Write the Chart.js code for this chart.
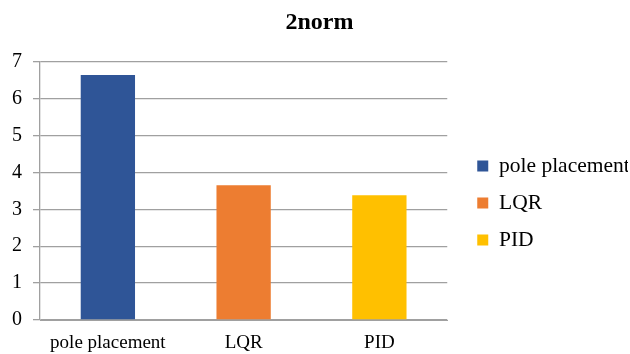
<!DOCTYPE html>
<html>
<head>
<meta charset="utf-8">
<script src="https://cdn.jsdelivr.net/npm/chart.js@4"></script>
<style>
  html, body { margin: 0; padding: 0; background: #fff; }
  #wrap { width: 630px; height: 354px; }
</style>
</head>
<body>
<div id="wrap"><canvas id="myChart"></canvas></div>
<script>
const categories = ['pole placement', 'LQR', 'PID'];
const values = [6.64, 3.65, 3.38];
const barColors = ['#2f5597', '#ed7d31', '#ffc000'];
const yTicks = [0, 1, 2, 3, 4, 5, 6, 7];

const serif = "'Liberation Serif', 'Times New Roman', serif";
Chart.defaults.font.family = serif;
Chart.defaults.color = '#000';

// legend sits a bit away from the plot and lower than chart.js puts it
const legendShift = {
    id: 'legendShift',
    beforeInit(chart) {
        const fitLegend = chart.legend.fit;
        chart.legend.fit = function() {
            fitLegend.bind(chart.legend)();
            this.width += 24;
        };
    },
    afterLayout(chart) {
        chart.legend.left += 14.5;
        chart.legend.top += 25;
        chart.legend.bottom += 25;
        chart.titleBlock.left += 5;
        chart.titleBlock.right += 5;
    }
};

let ctx = document.getElementById('myChart');

var myChart = new Chart(ctx, {
    type: 'bar',
    data: {
        labels: categories,
        datasets: [{
            label: '2norm',
            data: values,
            backgroundColor: barColors,
            borderWidth: 0,
            categoryPercentage: 1,
            barPercentage: 0.4
        }]
    },
    plugins: [legendShift],
    options: {
        responsive: true,
        maintainAspectRatio: false,
        animation: false,
        layout: { padding: { top: 2, right: 2, bottom: 0, left: 1 } },
        plugins: {
            title: {
                display: true,
                text: '2norm',
                color: '#000',
                font: { family: serif, size: 24, weight: 'bold' },
                padding: { top: 6, bottom: 25 }
            },
            legend: {
                position: 'right',
                labels: {
                    color: '#000',
                    font: { family: serif, size: 21.5 },
                    boxWidth: 11,
                    boxHeight: 11,
                    padding: 15.5,
                    generateLabels: function(chart) {
                        return categories.map(function(c, i) {
                            return {
                                text: c,
                                fillStyle: barColors[i],
                                strokeStyle: barColors[i],
                                lineWidth: 0,
                                fontColor: '#000',
                                index: i
                            };
                        });
                    }
                },
                onClick: null
            },
            tooltip: { enabled: false }
        },
        scales: {
            x: {
                afterFit: function(scale) { scale.height = 34; },
                grid: { display: false, drawTicks: false },
                border: { color: '#a0a0a0' },
                ticks: { color: '#000', font: { family: serif, size: 19 }, padding: 12 }
            },
            y: {
                min: 0,
                max: 7,
                afterBuildTicks: function(axis) {
                    axis.ticks = yTicks.map(function(v) { return { value: v }; });
                },
                grid: { color: '#a0a0a0', lineWidth: 1.3, tickLength: 7 },
                border: { color: '#a0a0a0', width: 1.3 },
                ticks: { color: '#000', font: { family: serif, size: 20 }, padding: 11 }
            }
        }
    }
});
</script>
</body>
</html>
